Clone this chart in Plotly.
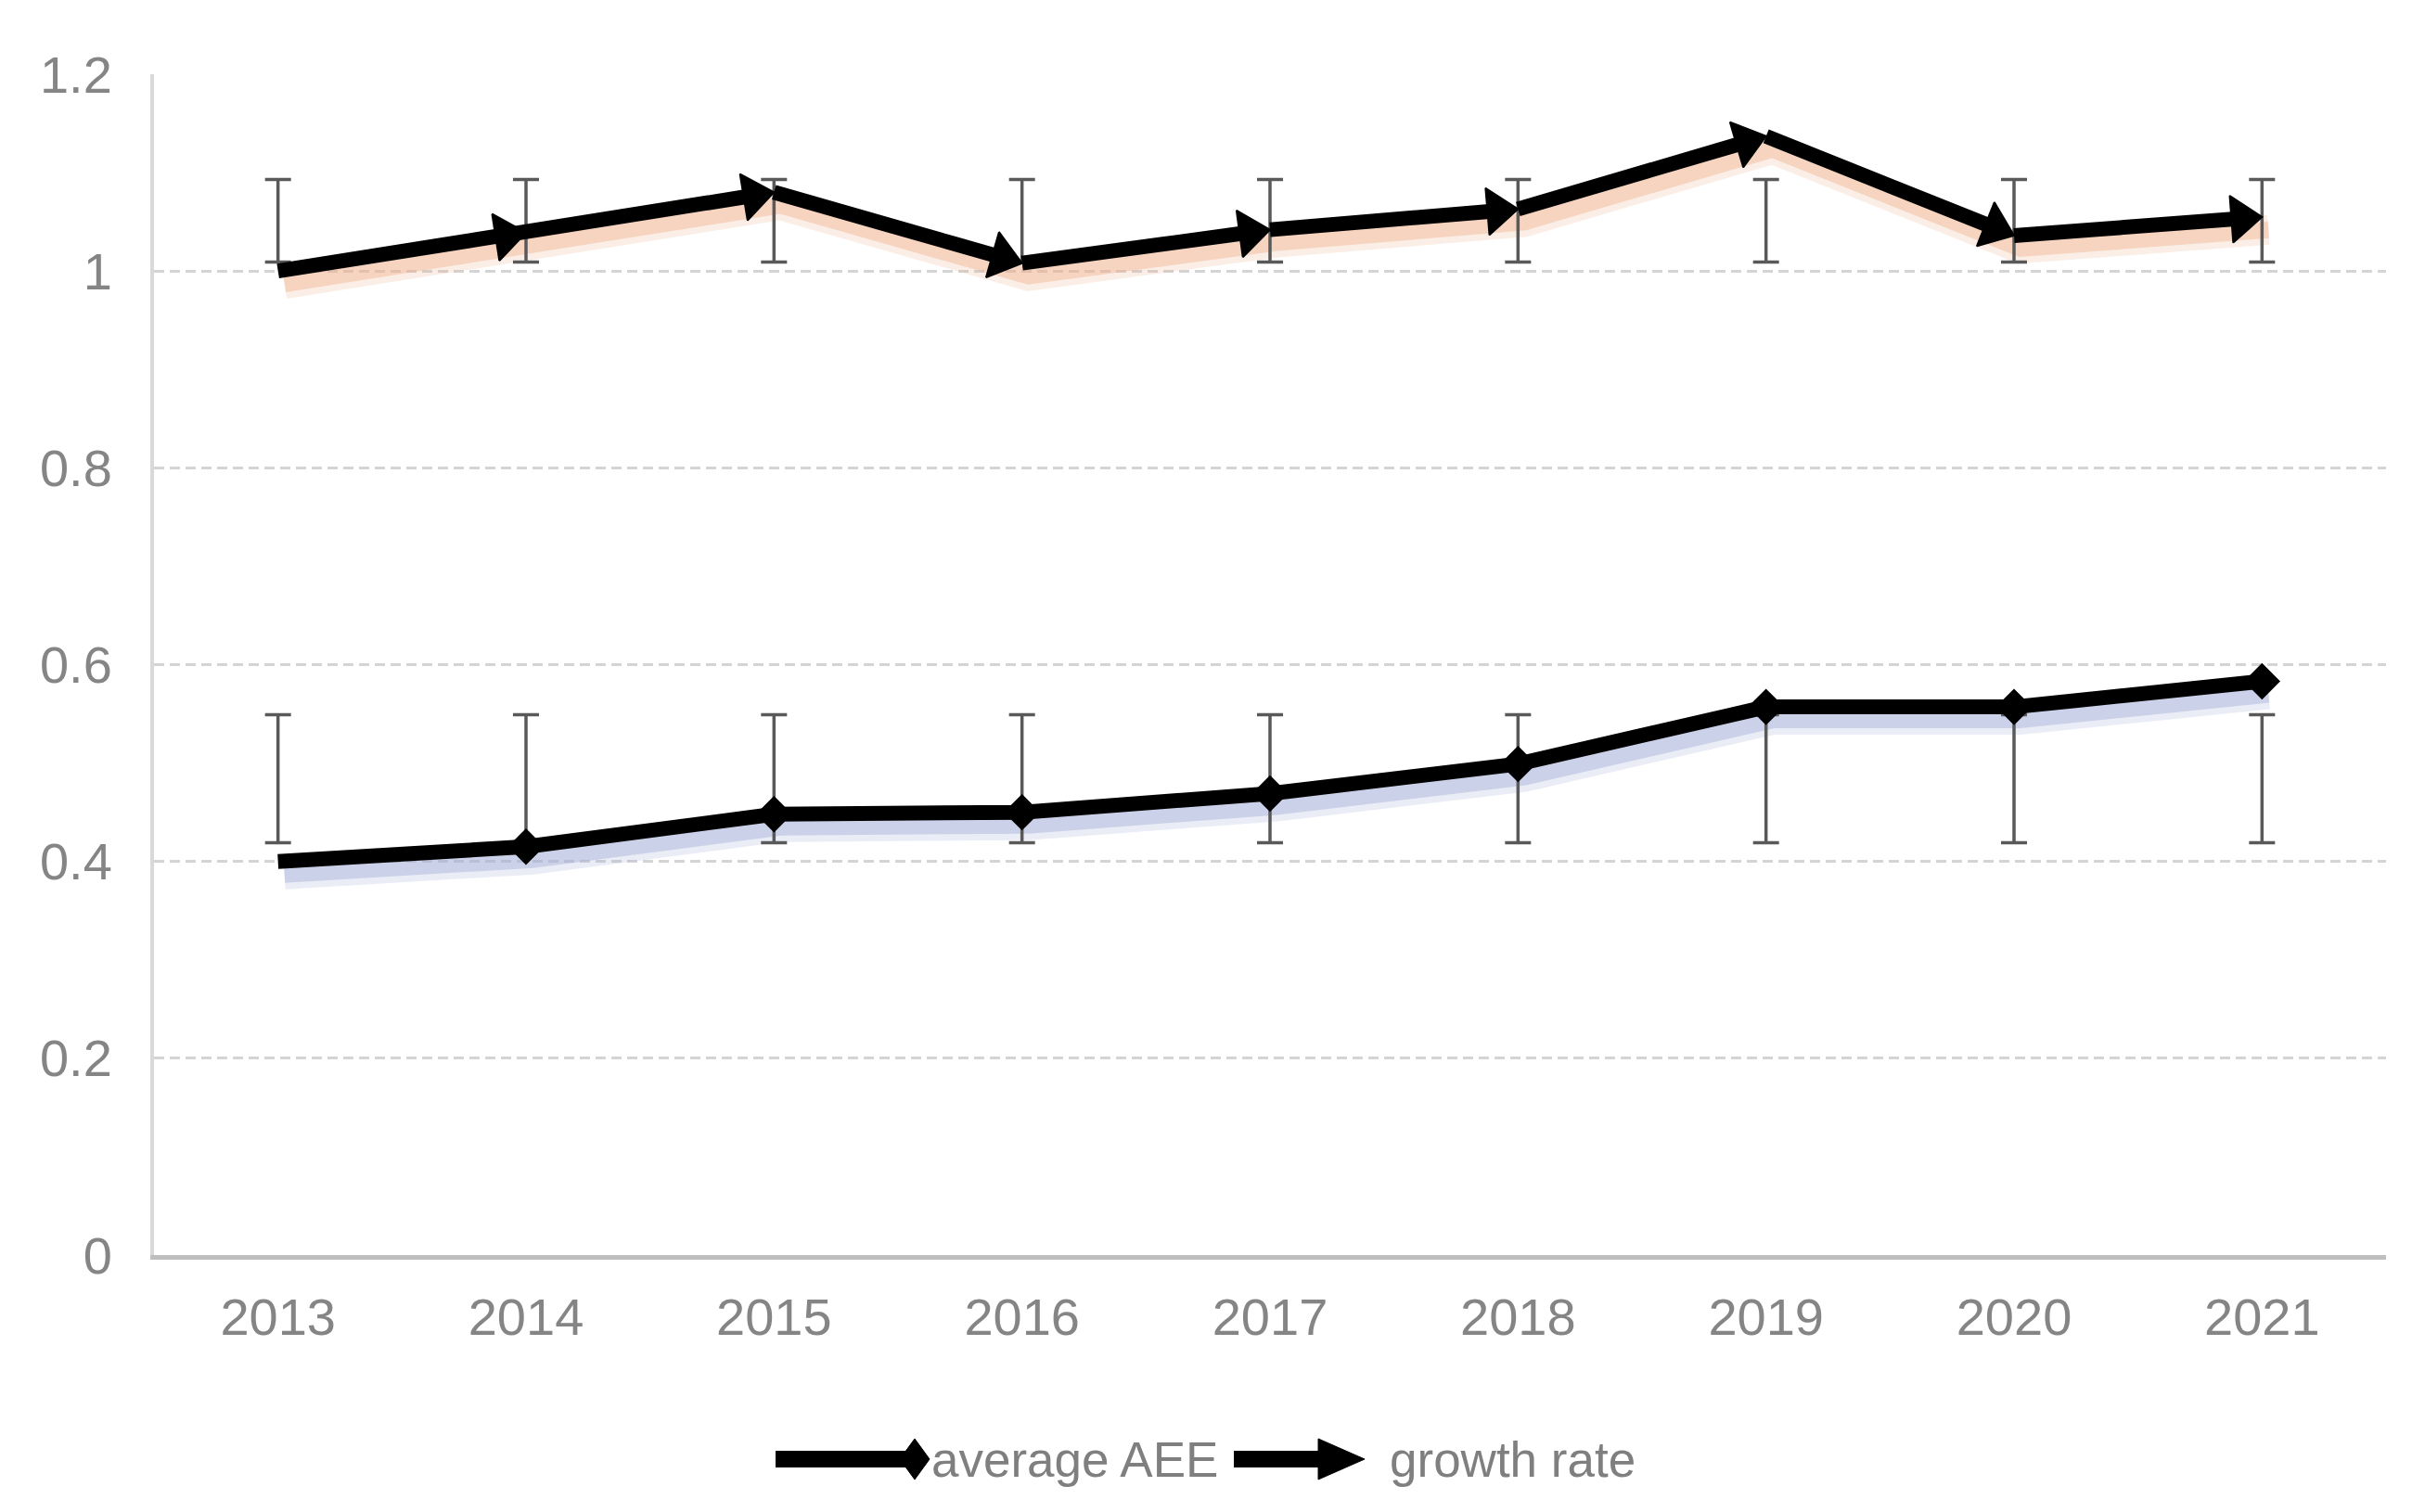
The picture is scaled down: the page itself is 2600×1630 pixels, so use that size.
import plotly.graph_objects as go

# ---------------- data ----------------
years = ["2013", "2014", "2015", "2016", "2017", "2018", "2019", "2020", "2021"]
average_aee = [0.400, 0.415, 0.448, 0.450, 0.469, 0.499, 0.557, 0.557, 0.583]
growth_rate = [1.000, 1.039, 1.080, 1.008, 1.042, 1.063, 1.137, 1.036, 1.055]
aee_err_low = [0.419] * 9
aee_err_high = [0.549] * 9
growth_err_low = [1.009] * 9
growth_err_high = [1.093] * 9
y_ticks = [0, 0.2, 0.4, 0.6, 0.8, 1.0, 1.2]
y_tick_text = ["0", "0.2", "0.4", "0.6", "0.8", "1", "1.2"]
legend_names = ["average AEE", "growth rate"]

# ---------------- layout constants ----------------
W, H = 2600, 1630
ML, MR, MT, MB = 158, 36, 72, 285
PW, PH = W - ML - MR, H - MT - MB
Y_RANGE = [0, 1.2]
N = len(years)
X_RANGE = [-0.5, N - 0.5]
SHADOW_DX_PX, SHADOW_DY_PX = 7, 14
dx = SHADOW_DX_PX * (X_RANGE[1] - X_RANGE[0]) / PW
dy = SHADOW_DY_PX * (Y_RANGE[1] - Y_RANGE[0]) / PH

FONT = "Liberation Sans, Arial, sans-serif"
TICK_COLOR = "#858585"
LINE_W = 16

fig = go.Figure()

# shadows (base axes, shifted a few pixels down/right)
for ys, col in [(growth_rate, "rgba(238,176,140,%s)"), (average_aee, "rgba(160,172,215,%s)")]:
    fig.add_trace(go.Scatter(x=years, y=ys, mode="lines", xaxis="x", yaxis="y",
                             line=dict(color=col % "0.22", width=LINE_W + 16),
                             hoverinfo="skip", showlegend=False))
    fig.add_trace(go.Scatter(x=years, y=ys, mode="lines", xaxis="x", yaxis="y",
                             line=dict(color=col % "0.42", width=LINE_W + 2),
                             hoverinfo="skip", showlegend=False))

def sizes(s):
    return [0] + [s] * (N - 1)

ERR_STYLE = dict(color="#595959", thickness=3.5, width=14)

# error bars first (drawn beneath the lines)
for ys, lo, hi in [(average_aee, aee_err_low, aee_err_high),
                   (growth_rate, growth_err_low, growth_err_high)]:
    fig.add_trace(go.Scatter(
        x=years, y=ys, mode="markers", xaxis="x2", yaxis="y2",
        marker=dict(size=1, opacity=0),
        error_y=dict(type="data", symmetric=False,
                     array=[h - v for h, v in zip(hi, ys)],
                     arrayminus=[v - l for l, v in zip(lo, ys)],
                     **ERR_STYLE),
        hoverinfo="skip", showlegend=False))

# main series
fig.add_trace(go.Scatter(
    x=years, y=average_aee, mode="lines+markers", name=legend_names[0],
    xaxis="x2", yaxis="y2",
    line=dict(color="black", width=LINE_W),
    marker=dict(symbol="diamond", size=sizes(27), color="black", opacity=1,
                line=dict(color="black", width=3)),
    showlegend=False))
fig.add_trace(go.Scatter(
    x=years, y=growth_rate, mode="lines+markers", name=legend_names[1],
    xaxis="x2", yaxis="y2",
    line=dict(color="black", width=LINE_W),
    marker=dict(symbol="triangle-up", size=sizes(44), color="black", opacity=1,
                angleref="previous", standoff=22,
                line=dict(color="black", width=2)),
    showlegend=False))

tickfont = dict(family=FONT, size=56, color=TICK_COLOR)

fig.update_layout(
    width=W, height=H,
    margin=dict(l=ML, r=MR, t=MT, b=MB),
    paper_bgcolor="white", plot_bgcolor="white",
    showlegend=False,
    xaxis=dict(type="category", categoryorder="array", categoryarray=years,
               range=[X_RANGE[0] - dx, X_RANGE[1] - dx], visible=False, fixedrange=True),
    yaxis=dict(range=[Y_RANGE[0] + dy, Y_RANGE[1] + dy], visible=False, fixedrange=True),
    xaxis2=dict(type="category", categoryorder="array", categoryarray=years,
                overlaying="x", anchor="y2", side="bottom", range=X_RANGE,
                showgrid=False, showline=True, linecolor="#bfbfbf", linewidth=5,
                ticks="", tickfont=tickfont, ticklabelstandoff=14),
    yaxis2=dict(overlaying="y", anchor="x2", side="left", range=Y_RANGE,
                tickvals=y_ticks, ticktext=y_tick_text,
                showgrid=True, gridcolor="#d4d4d4", gridwidth=3, griddash="11px,6px",
                zeroline=False, showline=True, linecolor="#d9d9d9", linewidth=4,
                ticks="", tickfont=tickfont, ticklabelstandoff=30),
)

# ---------------- custom legend ----------------
LEG_X = (828 - ML) / PW
LEG_Y = (H - MB - 1565) / PH
leg = dict(xref="paper", yref="paper", xsizemode="pixel", ysizemode="pixel",
           xanchor=LEG_X, yanchor=LEG_Y)
fig.add_shape(type="line", x0=0, x1=150, y0=0, y1=0, line=dict(color="black", width=18), **leg)
fig.add_shape(type="path", path="M134,0 L150,22 L166,0 L150,-22 Z",
              fillcolor="black", line=dict(color="black", width=1), **leg)
fig.add_shape(type="line", x0=494, x1=592, y0=0, y1=0, line=dict(color="black", width=18), **leg)
fig.add_shape(type="path", path="M585,-22 L635,0 L585,22 Z",
              fillcolor="black", line=dict(color="black", width=1), **leg)
for name, off in zip(legend_names, [166, 660]):
    fig.add_annotation(text=name, xref="paper", yref="paper", x=LEG_X, y=LEG_Y,
                       xshift=off, xanchor="left", yanchor="middle", showarrow=False,
                       font=dict(family=FONT, size=53, color="#7f7f7f"))

fig.write_html("out.html")
